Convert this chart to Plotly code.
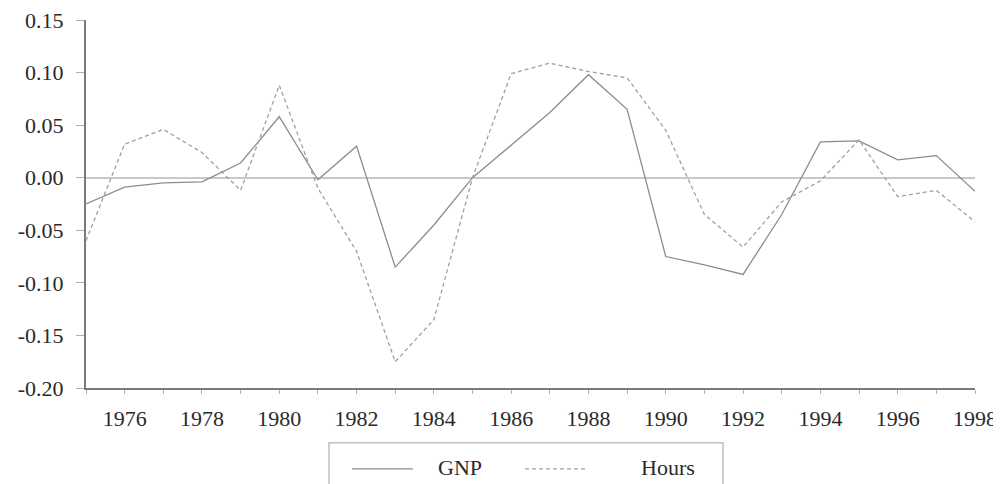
import plotly.graph_objects as go

years = list(range(1975, 1999))
gnp = [-0.025, -0.009, -0.005, -0.004, 0.014, 0.058, -0.002, 0.030,
       -0.085, -0.045, 0.000, 0.031, 0.062, 0.098, 0.065, -0.075,
       -0.083, -0.092, -0.035, 0.034, 0.035, 0.017, 0.021, -0.013]
hours = [-0.060, 0.032, 0.046, 0.024, -0.012, 0.088, -0.010, -0.070,
         -0.175, -0.135, 0.000, 0.099, 0.109, 0.101, 0.095, 0.045,
         -0.035, -0.066, -0.023, -0.003, 0.036, -0.018, -0.012, -0.042]

y_ticks = [0.15, 0.10, 0.05, 0.00, -0.05, -0.10, -0.15, -0.20]
y_labels = ["0.15", "0.10", "0.05", "0.00", "-0.05", "-0.10", "-0.15", "-0.20"]
x_labels = [str(y) if y % 2 == 0 else "" for y in years]

font = "Liberation Serif, Times New Roman, serif"
txt = "#2a2a2a"

fig = go.Figure()
fig.add_trace(go.Scatter(x=years, y=gnp, mode="lines", name="GNP",
                         line=dict(color="#8c8c8c", width=1.3)))
fig.add_trace(go.Scatter(x=years, y=hours, mode="lines", name="Hours",
                         line=dict(color="#a0a0a0", width=1.3, dash="4px,3px")))

# page body has an 8px margin, so the figure is a bit smaller than the window
fig.update_layout(
    width=993, height=476,
    margin=dict(l=78, r=26, t=12, b=96, autoexpand=False),
    paper_bgcolor="white", plot_bgcolor="white",
    showlegend=False,
    font=dict(family=font, size=22, color=txt),
)
fig.update_xaxes(
    range=[1975, 1998], tickmode="array", tickvals=years, ticktext=x_labels,
    showgrid=False, zeroline=False, showline=True, linecolor="#7a7a7a", linewidth=2,
    ticks="outside", ticklen=4, tickcolor="#b0b0b0", ticklabelstandoff=6,
    automargin=False, ticklabeloverflow="allow",
)
fig.update_yaxes(
    range=[-0.20, 0.15], tickmode="array", tickvals=y_ticks, ticktext=y_labels,
    showgrid=False, zeroline=True, zerolinecolor="#c8c8c8", zerolinewidth=1.5,
    showline=True, linecolor="#7a7a7a", linewidth=2,
    ticks="outside", ticklen=8, tickcolor="#b0b0b0", ticklabelstandoff=8,
    automargin=False, ticklabeloverflow="allow",
)

# legend box drawn by hand below the plot
px = lambda x: (x - 86) / 889
fig.add_shape(type="rect", xref="paper", yref="paper",
              x0=px(329), x1=px(723), y0=-0.36, y1=-0.149,
              line=dict(color="#c0c0c0", width=1.5))
fig.add_shape(type="line", xref="paper", yref="paper",
              x0=px(352), x1=px(413), y0=-0.22, y1=-0.22,
              line=dict(color="#8c8c8c", width=1.3))
fig.add_shape(type="line", xref="paper", yref="paper",
              x0=px(525), x1=px(588), y0=-0.22, y1=-0.22,
              line=dict(color="#a0a0a0", width=1.3, dash="4px,3px"))
fig.add_annotation(text="GNP", xref="paper", yref="paper", x=px(460),
                   y=-0.217, showarrow=False, xanchor="center", yanchor="middle")
fig.add_annotation(text="Hours", xref="paper", yref="paper", x=px(668),
                   y=-0.217, showarrow=False, xanchor="center", yanchor="middle")

fig.write_html("out.html")
